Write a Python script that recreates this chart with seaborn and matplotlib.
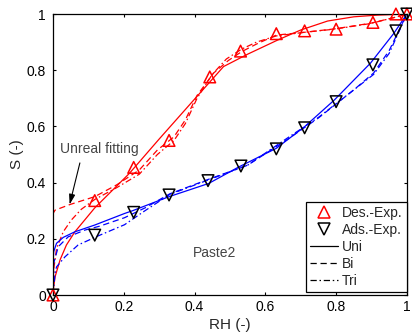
import matplotlib
matplotlib.use("Agg")
import matplotlib.pyplot as plt
from matplotlib.lines import Line2D
import numpy as np
import pandas as pd
import seaborn as sns

# Experimental sorption data (relative humidity vs saturation)
rh_des_exp = [0.0, 0.118, 0.228, 0.328, 0.443, 0.530, 0.631, 0.711, 0.800, 0.904, 0.969, 1.0]
s_des_exp = [0.0, 0.336, 0.454, 0.550, 0.776, 0.868, 0.930, 0.940, 0.946, 0.970, 1.000, 1.0]
rh_ads_exp = [0.0, 0.118, 0.228, 0.328, 0.438, 0.531, 0.631, 0.711, 0.800, 0.904, 0.969, 1.0]
s_ads_exp = [0.0, 0.213, 0.294, 0.356, 0.407, 0.459, 0.520, 0.595, 0.688, 0.819, 0.940, 1.0]

# Fitted desorption curves
rh_des_uni = [0, 0.002, 0.006, 0.02, 0.038, 0.062, 0.118, 0.216, 0.30, 0.40, 0.482, 0.55, 0.636, 0.70, 0.776, 0.85, 0.916, 1.0]
s_des_uni = [0, 0.03, 0.065, 0.125, 0.178, 0.225, 0.31, 0.433, 0.555, 0.697, 0.813, 0.857, 0.908, 0.943, 0.975, 0.99, 0.996, 1.0]

rh_des_bi = [0, 0, 0.006, 0.048, 0.118, 0.18, 0.244, 0.295, 0.342, 0.374, 0.407, 0.454, 0.496, 0.533, 0.575, 0.631, 0.711, 0.795, 0.897, 0.972, 1.0]
s_des_bi = [0, 0.29, 0.302, 0.322, 0.35, 0.392, 0.445, 0.516, 0.563, 0.623, 0.71, 0.79, 0.835, 0.866, 0.893, 0.925, 0.935, 0.947, 0.967, 0.99, 1.0]

rh_des_tri = [0, 0.003, 0.01, 0.029, 0.052, 0.08, 0.118, 0.18, 0.244, 0.295, 0.342, 0.374, 0.407, 0.45, 0.49, 0.533, 0.575, 0.631, 0.711, 0.795, 0.897, 0.972, 1.0]
s_des_tri = [0, 0.10, 0.165, 0.225, 0.267, 0.305, 0.34, 0.382, 0.43, 0.50, 0.55, 0.61, 0.70, 0.785, 0.84, 0.875, 0.90, 0.922, 0.935, 0.946, 0.966, 0.99, 1.0]

# Fitted adsorption curves
rh_ads_uni = [0, 0, 0.002, 0.01, 0.029, 0.062, 0.118, 0.202, 0.225, 0.328, 0.44, 0.524, 0.631, 0.711, 0.795, 0.897, 0.963, 1.0]
s_ads_uni = [0, 0.113, 0.154, 0.184, 0.205, 0.225, 0.249, 0.29, 0.30, 0.35, 0.397, 0.455, 0.522, 0.599, 0.694, 0.825, 0.931, 1.0]

rh_ads_bi = [0, 0.002, 0.015, 0.043, 0.09, 0.132, 0.202, 0.26, 0.33, 0.44, 0.55, 0.664, 0.75, 0.85, 0.906, 0.95, 1.0]
s_ads_bi = [0, 0.113, 0.172, 0.207, 0.231, 0.245, 0.275, 0.31, 0.36, 0.412, 0.462, 0.555, 0.63, 0.73, 0.79, 0.87, 1.0]

rh_ads_tri = [0, 0.006, 0.01, 0.034, 0.071, 0.127, 0.202, 0.26, 0.33, 0.44, 0.55, 0.664, 0.75, 0.85, 0.906, 0.95, 1.0]
s_ads_tri = [0, 0.077, 0.10, 0.136, 0.178, 0.21, 0.25, 0.30, 0.358, 0.41, 0.462, 0.56, 0.632, 0.73, 0.785, 0.86, 1.0]

ticks = [0, 0.2, 0.4, 0.6, 0.8, 1]
tick_labels = ["0", "0.2", "0.4", "0.6", "0.8", "1"]

sns.set_theme(style="ticks")
plt.rcParams["font.family"] = ["Liberation Sans", "DejaVu Sans"]

fig = plt.figure(figsize=(4.12, 3.35), dpi=100)
ax = fig.add_axes([0.1286, 0.1194, 0.8590, 0.8388])

RED = (1, 0, 0)
BLUE = (0, 0, 1)
LW = 0.9
DASH = (0, (5, 3))
DASHDOT = (0, (5, 2.2, 1.2, 2.2))

curves = [
    (rh_des_uni, s_des_uni, RED, "-"),
    (rh_des_bi, s_des_bi, RED, DASH),
    (rh_des_tri, s_des_tri, RED, DASHDOT),
    (rh_ads_uni, s_ads_uni, BLUE, "-"),
    (rh_ads_bi, s_ads_bi, BLUE, DASH),
    (rh_ads_tri, s_ads_tri, BLUE, DASHDOT),
]
for x, y, c, ls in curves:
    sns.lineplot(x=x, y=y, ax=ax, color=c, linewidth=LW, linestyle=ls,
                 estimator=None, sort=False, legend=False)

sns.scatterplot(x=rh_des_exp, y=s_des_exp, ax=ax, marker="^", s=70,
                facecolor="none", edgecolor=RED, linewidth=1.1,
                zorder=4, clip_on=False, legend=False)
sns.scatterplot(x=rh_ads_exp, y=s_ads_exp, ax=ax, marker="v", s=70,
                facecolor="none", edgecolor="black", linewidth=1.1,
                zorder=4, clip_on=False, legend=False)

ax.set_xlim(0, 1)
ax.set_ylim(0, 1)
ax.set_xticks(ticks)
ax.set_xticklabels(tick_labels)
ax.set_yticks(ticks)
ax.set_yticklabels(tick_labels)
ax.tick_params(direction="in", length=2.5, width=0.8, top=True, right=True,
               labelsize=10, colors="black")
ax.tick_params(axis="y", pad=5)
ax.tick_params(axis="x", pad=3.5)
for sp in ax.spines.values():
    sp.set_visible(True)
    sp.set_linewidth(0.9)
    sp.set_color("black")

ax.set_xlabel("RH (-)", fontsize=11, labelpad=3)
ax.set_ylabel("S (-)", fontsize=11, labelpad=2)

ax.text(0.02, 0.52, "Unreal fitting", fontsize=10, color="#444444",
        ha="left", va="center")
ax.annotate("", xy=(0.047, 0.322), xytext=(0.076, 0.47),
            arrowprops=dict(arrowstyle="-|>,head_length=0.5,head_width=0.15",
                            color="black", lw=0.8, shrinkA=0, shrinkB=0))
ax.text(0.457, 0.149, "Paste2", fontsize=10, color="#444444",
        ha="center", va="center")

handles = [
    Line2D([], [], marker="^", linestyle="none", markerfacecolor="none",
           markeredgecolor=RED, markersize=8.5, markeredgewidth=1.1),
    Line2D([], [], marker="v", linestyle="none", markerfacecolor="none",
           markeredgecolor="black", markersize=8.5, markeredgewidth=1.1),
    Line2D([], [], color="black", linewidth=LW, linestyle="-"),
    Line2D([], [], color="black", linewidth=LW, linestyle=DASH),
    Line2D([], [], color="black", linewidth=LW, linestyle=DASHDOT),
]
labels = ["Des.-Exp.", "Ads.-Exp.", "Uni", "Bi", "Tri"]
leg = ax.legend(handles, labels, loc="lower right", bbox_to_anchor=(1.0, 0.01),
                borderaxespad=0, fontsize=10, frameon=True, fancybox=False,
                edgecolor="black", framealpha=1, handlelength=2.0,
                handletextpad=0.3, labelspacing=0.22, borderpad=0.3)
leg.get_frame().set_linewidth(0.9)

fig.savefig("out.png", dpi=100)
